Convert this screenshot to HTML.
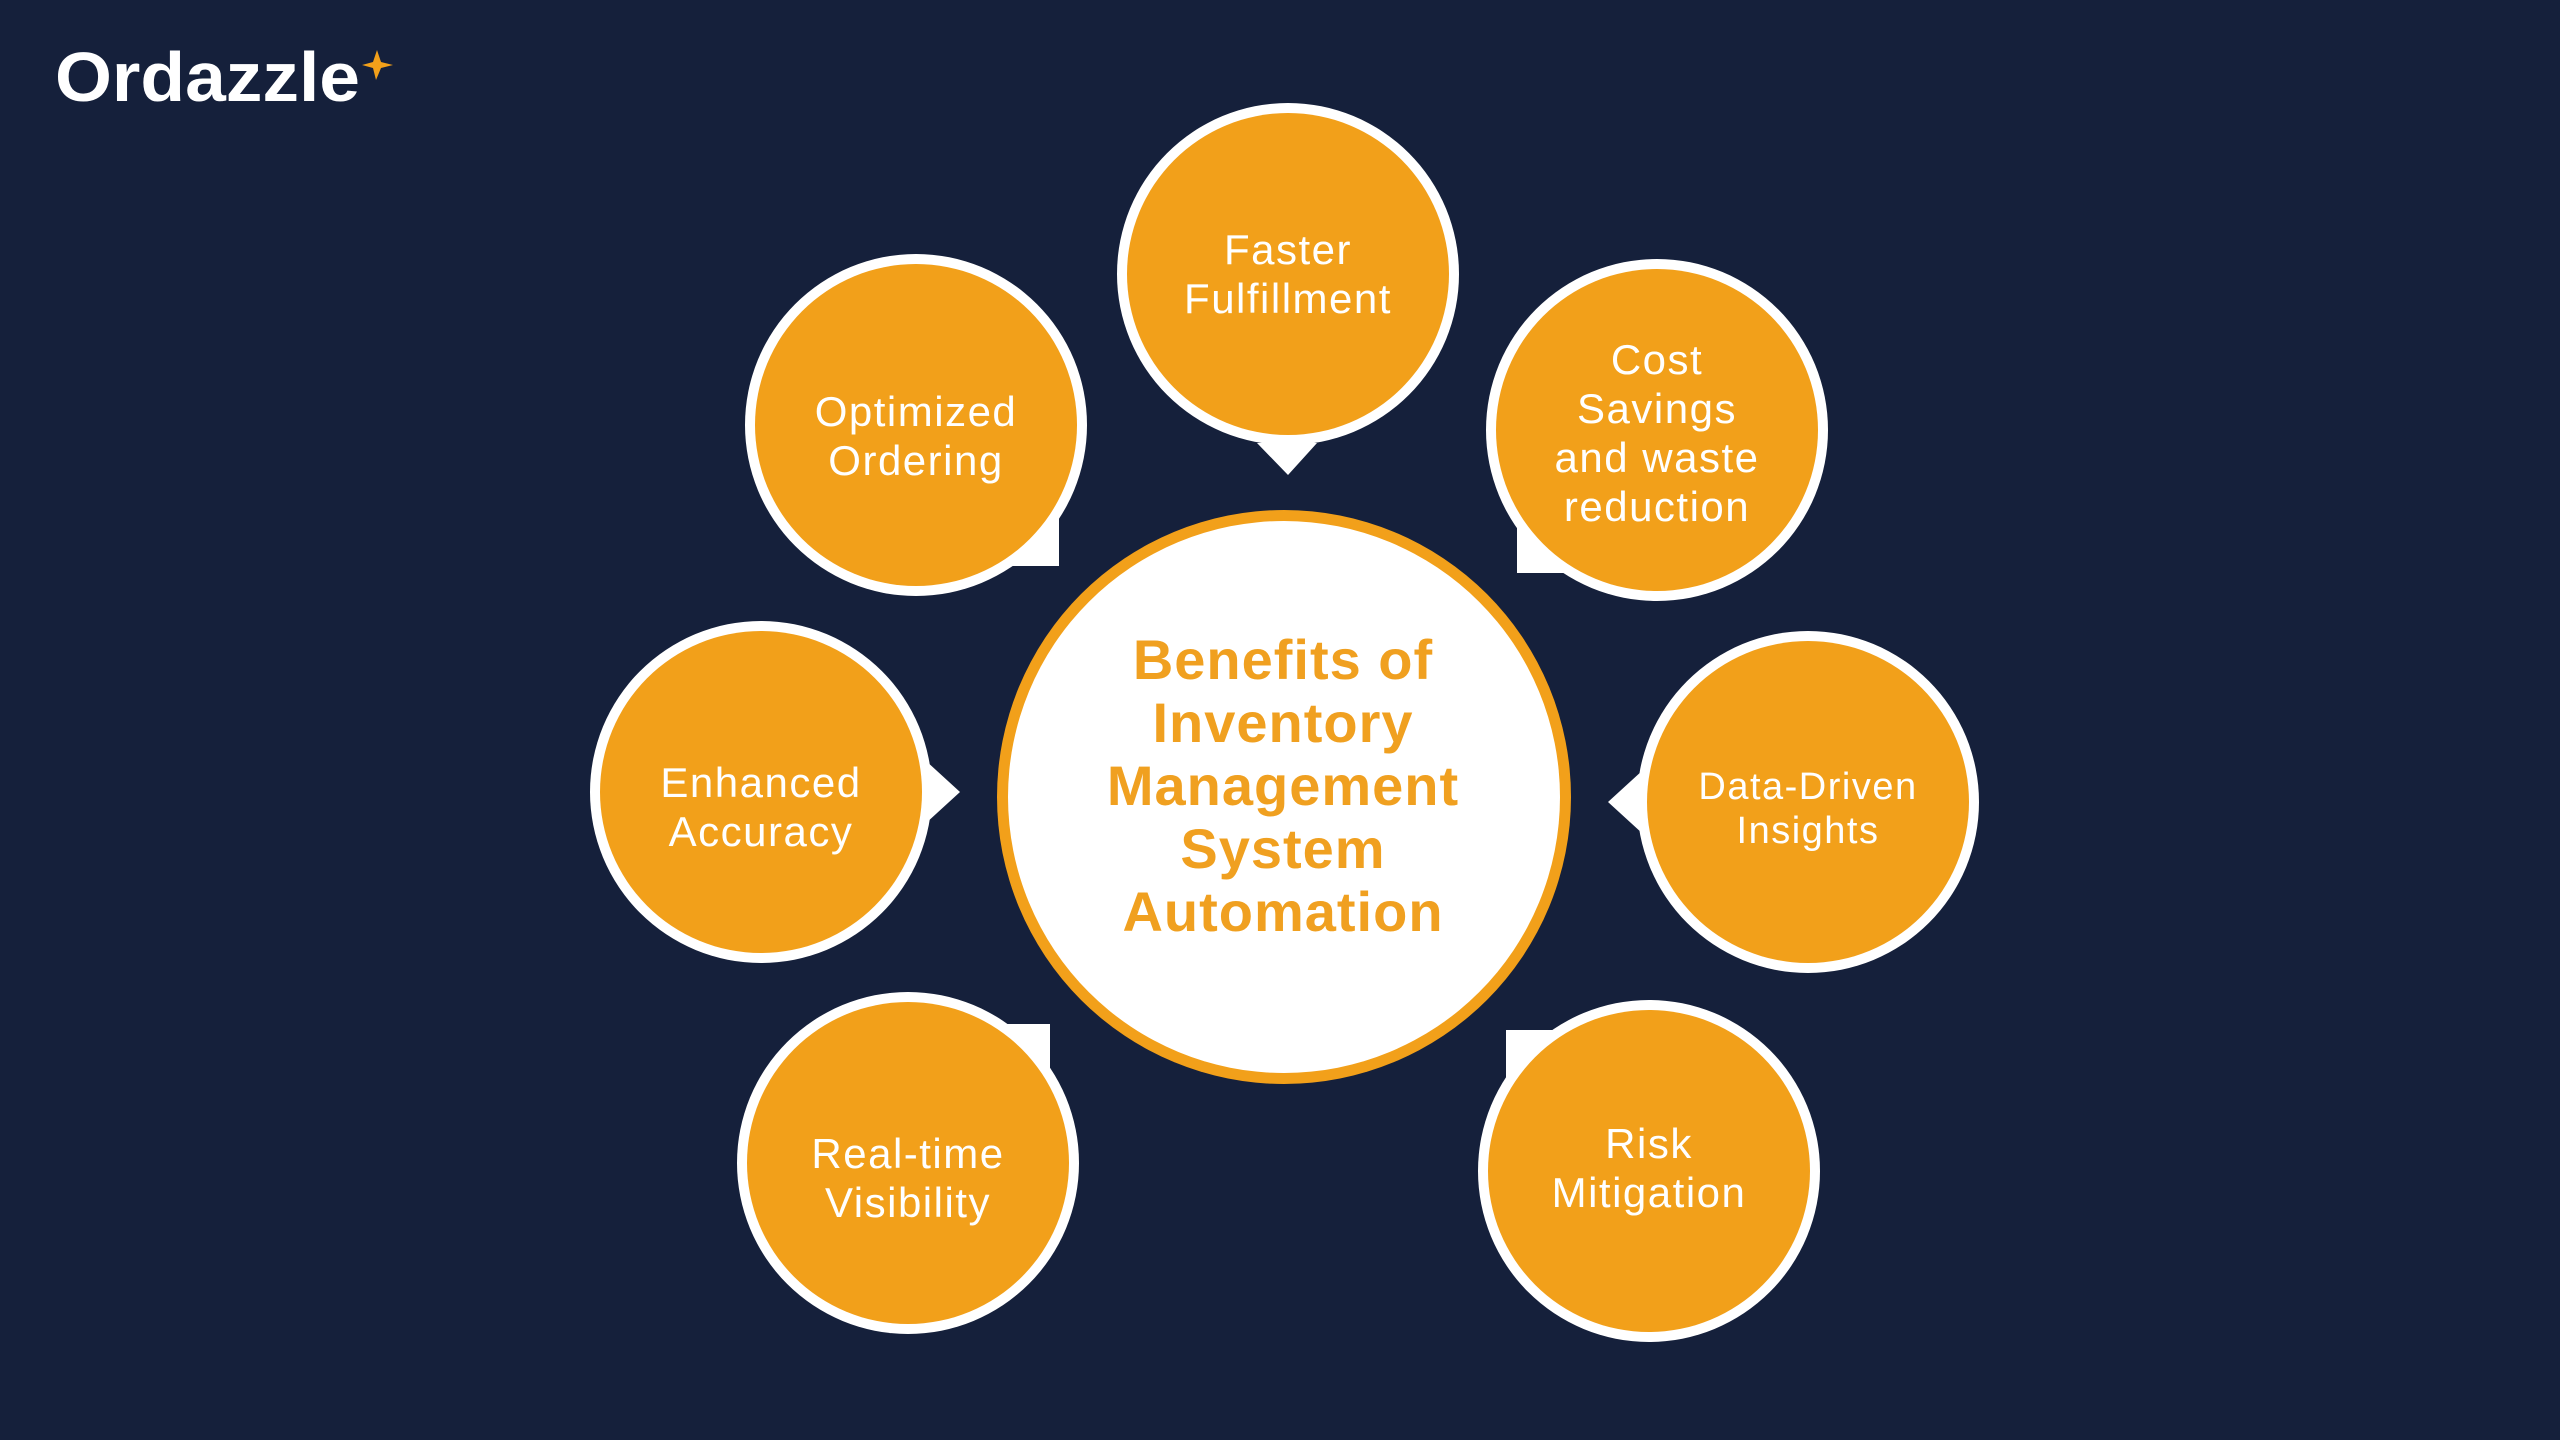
<!DOCTYPE html>
<html><head><meta charset="utf-8"><style>
html,body{margin:0;padding:0;background:#15203b;}
svg{display:block}
text{font-family:"Liberation Sans",sans-serif;}
</style></head><body>
<svg width="2560" height="1440" viewBox="0 0 2560 1440" xmlns="http://www.w3.org/2000/svg">
<rect width="2560" height="1440" fill="#15203b"/>
<!-- logo -->
<text x="55" y="101" font-size="70" font-weight="bold" fill="#ffffff" textLength="305" lengthAdjust="spacingAndGlyphs">Ordazzle</text>
<path d="M377 50 L381 62 L393 65 L381 68 L376 80 L373 68 L362 65 L373 62 Z" fill="#f2a01a"/>

<!-- pointers (white) -->
<polygon points="1257,443 1317,443 1288,475" fill="#fff"/>
<rect x="990" y="500" width="69" height="66" fill="#fff"/>
<rect x="1517" y="505" width="68" height="68" fill="#fff"/>
<polygon points="925,760 925,824 960,792" fill="#fff"/>
<polygon points="1643,770 1643,834 1608,802" fill="#fff"/>
<rect x="980" y="1024" width="70" height="66" fill="#fff"/>
<rect x="1506" y="1030" width="70" height="70" fill="#fff"/>

<!-- satellites -->
<g fill="#fff">
<circle cx="1288" cy="274" r="171"/>
<circle cx="916" cy="425" r="171"/>
<circle cx="1657" cy="430" r="171"/>
<circle cx="761" cy="792" r="171"/>
<circle cx="1808" cy="802" r="171"/>
<circle cx="908" cy="1163" r="171"/>
<circle cx="1649" cy="1171" r="171"/>
</g>
<g fill="#f2a01a">
<circle cx="1288" cy="274" r="161"/>
<circle cx="916" cy="425" r="161"/>
<circle cx="1657" cy="430" r="161"/>
<circle cx="761" cy="792" r="161"/>
<circle cx="1808" cy="802" r="161"/>
<circle cx="908" cy="1163" r="161"/>
<circle cx="1649" cy="1171" r="161"/>
</g>

<!-- center -->
<circle cx="1284" cy="797" r="287" fill="#f2a01a"/>
<circle cx="1284" cy="797" r="276" fill="#fff"/>

<g fill="#fff" font-size="42" letter-spacing="1.5" text-anchor="middle">
<text x="1288" y="264">Faster</text>
<text x="1288" y="313">Fulfillment</text>
<text x="916" y="426">Optimized</text>
<text x="916" y="475">Ordering</text>
<text x="1657" y="374">Cost</text>
<text x="1657" y="423">Savings</text>
<text x="1657" y="472">and waste</text>
<text x="1657" y="521">reduction</text>
<text x="761" y="797">Enhanced</text>
<text x="761" y="846">Accuracy</text>
<text x="1808" y="799" font-size="38">Data-Driven</text>
<text x="1808" y="843" font-size="38">Insights</text>
<text x="908" y="1168">Real-time</text>
<text x="908" y="1217">Visibility</text>
<text x="1649" y="1158">Risk</text>
<text x="1649" y="1207">Mitigation</text>
</g>

<g fill="#f0a020" font-size="56" font-weight="bold" letter-spacing="1" text-anchor="middle">
<text x="1283" y="679">Benefits of</text>
<text x="1283" y="742">Inventory</text>
<text x="1283" y="805">Management</text>
<text x="1283" y="868">System</text>
<text x="1283" y="931">Automation</text>
</g>
</svg>
</body></html>
